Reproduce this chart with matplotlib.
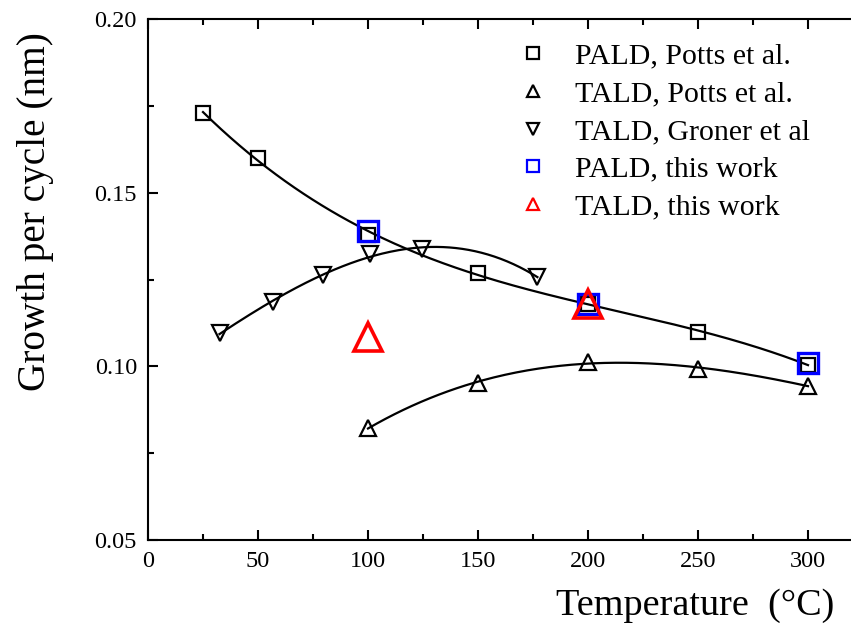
import numpy as np
import matplotlib
matplotlib.use("Agg")
import matplotlib.pyplot as plt

plt.rcParams['font.family'] = ['Liberation Serif', 'DejaVu Serif']
plt.rcParams['mathtext.fontset'] = 'stix'

# Data
pald_potts_x = [25, 50, 100, 150, 200, 250, 300]
pald_potts_y = [0.173, 0.160, 0.138, 0.127, 0.118, 0.110, 0.1005]
tald_potts_x = [100, 150, 200, 250, 300]
tald_potts_y = [0.0822, 0.0953, 0.1013, 0.0994, 0.0944]
tald_groner_x = [32.5, 57, 79.5, 101, 124.5, 177]
tald_groner_y = [0.1095, 0.1186, 0.1263, 0.1325, 0.1337, 0.1258]
pald_this_x = [100, 200, 300]
pald_this_y = [0.139, 0.118, 0.101]
tald_this_x = [100, 200]
tald_this_y = [0.1085, 0.1180]

fig = plt.figure(figsize=(8.51, 6.27), dpi=100)
ax = fig.add_axes([148/851, 87/627, 320*2.2/851, (540-19.3)/627])

def fit_curve(x, y, deg):
    c = np.polyfit(x, y, deg)
    xs = np.linspace(min(x), max(x), 200)
    return xs, np.polyval(c, xs)

for x, y, d in [(pald_potts_x, pald_potts_y, 3), (tald_potts_x, tald_potts_y, 3), (tald_groner_x, tald_groner_y, 3)]:
    xs, ys = fit_curve(x, y, d)
    ax.plot(xs, ys, color='black', lw=1.6, zorder=2)

ax.plot(pald_potts_x, pald_potts_y, 's', ms=10, mfc='none', mec='black', mew=1.6, ls='none',
        label='PALD, Potts et al.', zorder=3)
ax.plot(tald_potts_x, tald_potts_y, '^', ms=12, mfc='none', mec='black', mew=1.6, ls='none',
        label='TALD, Potts et al.', zorder=3)
ax.plot(tald_groner_x, tald_groner_y, 'v', ms=12, mfc='none', mec='black', mew=1.6, ls='none',
        label='TALD, Groner et al', zorder=3)
ax.plot(pald_this_x, pald_this_y, 's', ms=14, mfc='none', mec='#0000ff', mew=2.4, ls='none',
        label='PALD, this work', zorder=4)
ax.plot(tald_this_x, tald_this_y, '^', ms=20, mfc='none', mec='#ff0000', mew=2.6, ls='none',
        label='TALD, this work', zorder=5)

ax.set_xlim(0, 320)
ax.set_ylim(0.05, 0.20)
ax.set_xticks([0, 50, 100, 150, 200, 250, 300])
ax.set_xticks([25, 75, 125, 175, 225, 275], minor=True)
ax.set_yticks([0.05, 0.10, 0.15, 0.20])
ax.set_yticklabels(['0.05', '0.10', '0.15', '0.20'])
ax.set_yticks([0.075, 0.125, 0.175], minor=True)
ax.tick_params(which='both', direction='in', top=True, right=False, width=1.5, labelsize=17.5)
ax.tick_params(which='major', length=7, pad=8)
ax.tick_params(which='minor', length=4)
for s in ['left', 'bottom', 'top']:
    ax.spines[s].set_linewidth(1.5)
ax.spines['right'].set_visible(False)

fig.text(834/851, 1-606/627, 'Temperature  (°C)', fontsize=27.5, ha='right', va='center')
fig.text(36/851, 1-212/627, 'Growth per cycle (nm)', fontsize=28.3, ha='center', va='center', rotation=90)

leg = ax.legend(loc='upper left', bbox_to_anchor=(503/851, 1-28/627), bbox_transform=fig.transFigure,
                frameon=False, fontsize=21.5, handlelength=1.0, handletextpad=0.9, labelspacing=0.36,
                borderpad=0, markerscale=1.0)
for h in leg.legend_handles:
    h.set_markersize(8.5)
    h.set_markeredgewidth(1.6)

fig.savefig('out.png', dpi=100)
